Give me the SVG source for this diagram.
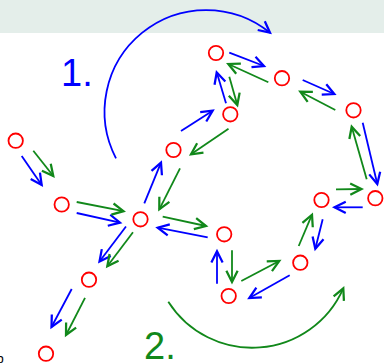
<svg xmlns="http://www.w3.org/2000/svg" width="384" height="364" viewBox="0 0 384 364">
<style>
.n{fill:none;stroke:#ff0000;stroke-width:1.8}
.b{stroke:#0000ff;stroke-width:1.8;fill:none;marker-end:url(#ab)}
.g{stroke:#11881a;stroke-width:1.8;fill:none;marker-end:url(#ag)}
.lbl{font-family:"Liberation Sans",Arial,sans-serif;font-size:38px}
</style>
<defs>
<marker id="ab" markerUnits="userSpaceOnUse" markerWidth="20" markerHeight="20" viewBox="-12 -8 14 16" refX="0" refY="0" orient="auto" overflow="visible">
<path d="M-9,-4.5 L0,0 L-9,4.5" fill="none" stroke="#0000ff" stroke-width="1.8"/>
</marker>
<marker id="ag" markerUnits="userSpaceOnUse" markerWidth="20" markerHeight="20" viewBox="-12 -8 14 16" refX="0" refY="0" orient="auto" overflow="visible">
<path d="M-9,-4.5 L0,0 L-9,4.5" fill="none" stroke="#11881a" stroke-width="1.8"/>
</marker>
</defs>
<rect x="0" y="0" width="384" height="33" fill="#e4eeea"/>
<g id="connectors">
<line class="b" x1="21.7" y1="156" x2="41.7" y2="185"/>
<line class="b" x1="76.7" y1="213" x2="120" y2="222.7"/>
<line class="b" x1="144.3" y1="203.3" x2="161" y2="162.7"/>
<line class="b" x1="181" y1="131" x2="212.7" y2="110.7"/>
<line class="b" x1="226" y1="103.3" x2="216.7" y2="72.3"/>
<line class="b" x1="229.3" y1="52.7" x2="264" y2="66"/>
<line class="b" x1="302.7" y1="80" x2="334.3" y2="94"/>
<line class="b" x1="362.7" y1="122.7" x2="377.3" y2="184"/>
<line class="b" x1="362.7" y1="207.3" x2="334.5" y2="207.3"/>
<line class="b" x1="322.7" y1="219.3" x2="315.3" y2="248.7"/>
<line class="b" x1="289.7" y1="275.3" x2="249.3" y2="298"/>
<line class="b" x1="217" y1="283.7" x2="217" y2="251.3"/>
<line class="b" x1="207.7" y1="237.3" x2="157.7" y2="227.7"/>
<line class="b" x1="126" y1="226.5" x2="99.5" y2="261.5"/>
<line class="b" x1="71.7" y1="289" x2="51.5" y2="327"/>
<line class="g" x1="33.3" y1="150.7" x2="53.3" y2="176"/>
<line class="g" x1="76.7" y1="202" x2="123.5" y2="211.2"/>
<line class="g" x1="180" y1="168.3" x2="159.3" y2="209.3"/>
<line class="g" x1="228.5" y1="128.7" x2="191" y2="154.3"/>
<line class="g" x1="229.3" y1="76.7" x2="237.3" y2="105"/>
<line class="g" x1="268.3" y1="82.3" x2="228.3" y2="64"/>
<line class="g" x1="335.3" y1="110" x2="300.3" y2="91.7"/>
<line class="g" x1="366.7" y1="179.3" x2="351.7" y2="126.7"/>
<line class="g" x1="336" y1="189.3" x2="361.5" y2="189"/>
<line class="g" x1="298.7" y1="246" x2="312" y2="214.7"/>
<line class="g" x1="241.3" y1="281" x2="279.3" y2="261"/>
<line class="g" x1="232" y1="250.3" x2="232" y2="282"/>
<line class="g" x1="162.7" y1="216.7" x2="206" y2="226"/>
<line class="g" x1="133" y1="232.2" x2="107.3" y2="266.3"/>
<line class="g" x1="85" y1="297.8" x2="66" y2="335"/>
<path class="b" d="M116,158.3 A101.5,101.5 0 0 1 270,32.7"/>
<path class="g" d="M168.3,301.7 A99.5,99.5 0 0 0 343.3,288.3"/>
</g>
<g id="nA"><circle class="n" cx="15.7" cy="140.7" r="7.2"/></g>
<g id="nB"><circle class="n" cx="61.7" cy="204.5" r="7.2"/></g>
<g id="nC"><circle class="n" cx="140.5" cy="219.3" r="7.2"/></g>
<g id="nD"><circle class="n" cx="173.5" cy="150" r="7.2"/></g>
<g id="nE"><circle class="n" cx="230.3" cy="114.3" r="7.2"/></g>
<g id="nF"><circle class="n" cx="216" cy="53" r="7.2"/></g>
<g id="nG"><circle class="n" cx="282" cy="78.2" r="7.2"/></g>
<g id="nH"><circle class="n" cx="353.5" cy="110.3" r="7.2"/></g>
<g id="nI"><circle class="n" cx="375.3" cy="198.2" r="7.2"/></g>
<g id="nJ"><circle class="n" cx="321.5" cy="200" r="7.2"/></g>
<g id="nK"><circle class="n" cx="300.3" cy="262.7" r="7.2"/></g>
<g id="nL"><circle class="n" cx="228.7" cy="296" r="7.2"/></g>
<g id="nM"><circle class="n" cx="224.2" cy="234.3" r="7.2"/></g>
<g id="nN"><circle class="n" cx="89" cy="279.7" r="7.2"/></g>
<g id="nO"><circle class="n" cx="46" cy="353.7" r="7.2"/></g>
<g id="labels">
<text class="lbl" x="61" y="86" fill="#0000ff">1.</text>
<text class="lbl" x="144" y="359" fill="#11881a">2.</text>
<text x="-3.5" y="363" font-family="Liberation Sans,Arial,sans-serif" font-size="13" fill="#000">b</text>
</g>
</svg>
